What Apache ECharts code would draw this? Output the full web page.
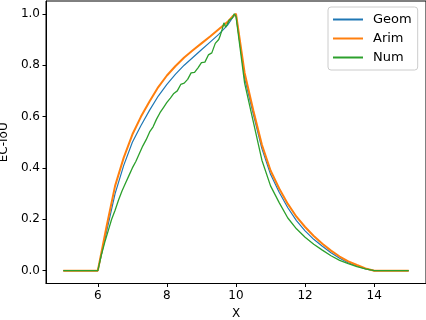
<!DOCTYPE html>
<html>
<head>
<meta charset="utf-8">
<script src="https://cdn.jsdelivr.net/npm/echarts@6/dist/echarts.min.js"></script>
<style>html,body{margin:0;padding:0;background:#fff}#c{width:426px;height:320px}</style>
</head>
<body>
<div id="c"></div>
<script>
// Shared x positions for the smooth curves (Geom, Arim)
const xSmooth = [5, 6, 6.25, 6.5, 6.75, 7, 7.25, 7.5, 7.75, 8, 8.25, 8.5, 8.75, 9, 9.25, 9.5, 9.75, 9.9, 10,
  10.25, 10.5, 10.75, 11, 11.25, 11.5, 11.75, 12, 12.25, 12.5, 12.75, 13, 13.25, 13.5, 13.75, 14, 15];
const geom = [0, 0, 0.15, 0.30, 0.41, 0.50, 0.565, 0.625, 0.68, 0.725, 0.765, 0.80, 0.83, 0.86, 0.89, 0.92, 0.955, 0.985, 1.0,
  0.75, 0.61, 0.475, 0.375, 0.305, 0.245, 0.195, 0.155, 0.122, 0.095, 0.07, 0.048, 0.031, 0.018, 0.007, 0, 0];
const arim = [0, 0, 0.17, 0.33, 0.44, 0.53, 0.60, 0.66, 0.715, 0.76, 0.797, 0.83, 0.858, 0.885, 0.912, 0.94, 0.968, 0.99, 1.0,
  0.77, 0.625, 0.49, 0.39, 0.32, 0.26, 0.21, 0.17, 0.135, 0.105, 0.078, 0.055, 0.036, 0.022, 0.009, 0, 0];
// Noisy numeric curve
const xNum = [5, 6, 6.1, 6.2, 6.3, 6.4, 6.5, 6.6, 6.7, 6.8, 6.9, 7.0, 7.1, 7.2, 7.3, 7.4, 7.5, 7.6, 7.7, 7.8, 7.9,
  8.0, 8.1, 8.2, 8.3, 8.4, 8.5, 8.6, 8.7, 8.8, 8.9, 9.0, 9.1, 9.2, 9.3, 9.4, 9.5, 9.55, 9.6, 9.65, 9.7, 9.75, 9.8, 9.85, 9.9, 9.95, 10,
  10.25, 10.5, 10.75, 11, 11.25, 11.5, 11.75, 12, 12.25, 12.5, 12.75, 13, 13.25, 13.5, 13.75, 14, 15];
const num = [0, 0, 0.06, 0.11, 0.155, 0.20, 0.235, 0.275, 0.31, 0.34, 0.37, 0.40, 0.425, 0.455, 0.485, 0.51, 0.54, 0.56, 0.59, 0.615, 0.635,
  0.655, 0.672, 0.69, 0.70, 0.725, 0.73, 0.745, 0.77, 0.772, 0.79, 0.81, 0.812, 0.84, 0.848, 0.885, 0.90, 0.918, 0.94, 0.965, 0.948, 0.96, 0.975, 0.968, 0.985, 1.0, 0.99,
  0.73, 0.58, 0.43, 0.33, 0.265, 0.205, 0.163, 0.13, 0.103, 0.08, 0.058, 0.04, 0.027, 0.016, 0.007, 0, 0];
const xTicks = [6, 8, 10, 12, 14];
const yTicks = [0, 0.2, 0.4, 0.6, 0.8, 1.0];
const seriesNames = ['Geom', 'Arim', 'Num'];
const colors = ['#1f77b4', '#ff7f0e', '#2ca02c'];

function pairs(xs, ys) { return xs.map((x, i) => [x, ys[i]]); }

const chart = echarts.init(document.getElementById('c'), null, {renderer: 'canvas'});
const font = 'DejaVu Sans';
chart.setOption({
  animation: false,
  textStyle: {fontFamily: font},
  grid: {left: 46, right: 0, top: 1, bottom: 36.5, show: true, borderColor: '#000', borderWidth: 1,
    containLabel: false, outerBoundsMode: 'none'},
  legend: {
    orient: 'vertical', left: 328, top: 7,
    padding: [6, 6, 6, 4], itemGap: 6, itemWidth: 30, itemHeight: 14,
    backgroundColor: 'rgba(255,255,255,0.8)', borderColor: '#cccccc', borderWidth: 1, borderRadius: 3,
    itemStyle: {opacity: 0},
    textStyle: {fontFamily: font, fontSize: 13, color: '#000', padding: [0, 0, 0, 5]},
    data: seriesNames
  },
  xAxis: {
    type: 'value', min: 4.5, max: 15.5,
    name: 'X', nameLocation: 'middle', nameGap: 24,
    nameTextStyle: {fontFamily: font, fontSize: 12, color: '#000'},
    axisLine: {show: true, onZero: false, lineStyle: {color: '#000', width: 1}},
    axisTick: {show: true, length: 3.5, customValues: xTicks, lineStyle: {color: '#000'}},
    axisLabel: {show: true, customValues: xTicks, fontSize: 12, color: '#000', margin: 6, fontFamily: font},
    splitLine: {show: false}
  },
  yAxis: {
    type: 'value', min: -0.05, max: 1.05,
    name: 'EC-IoU', nameLocation: 'middle', nameGap: 35,
    nameTextStyle: {fontFamily: font, fontSize: 12, color: '#000'},
    axisLine: {show: true, onZero: false, lineStyle: {color: '#000', width: 1}},
    axisTick: {show: true, length: 3.5, customValues: yTicks, lineStyle: {color: '#000'}},
    axisLabel: {show: true, customValues: yTicks, fontSize: 12, color: '#000', margin: 6, fontFamily: font,
      formatter: v => v.toFixed(1)},
    splitLine: {show: false}
  },
  series: [
    {name: 'Geom', type: 'line', data: pairs(xSmooth, geom), showSymbol: false, symbol: 'none',
      lineStyle: {color: colors[0], width: 1.2}, itemStyle: {color: colors[0]}},
    {name: 'Arim', type: 'line', data: pairs(xSmooth, arim), showSymbol: false, symbol: 'none',
      lineStyle: {color: colors[1], width: 2}, itemStyle: {color: colors[1]}},
    {name: 'Num', type: 'line', data: pairs(xNum, num), showSymbol: false, symbol: 'none',
      lineStyle: {color: colors[2], width: 1.3}, itemStyle: {color: colors[2]}}
  ]
});
</script>
</body>
</html>
